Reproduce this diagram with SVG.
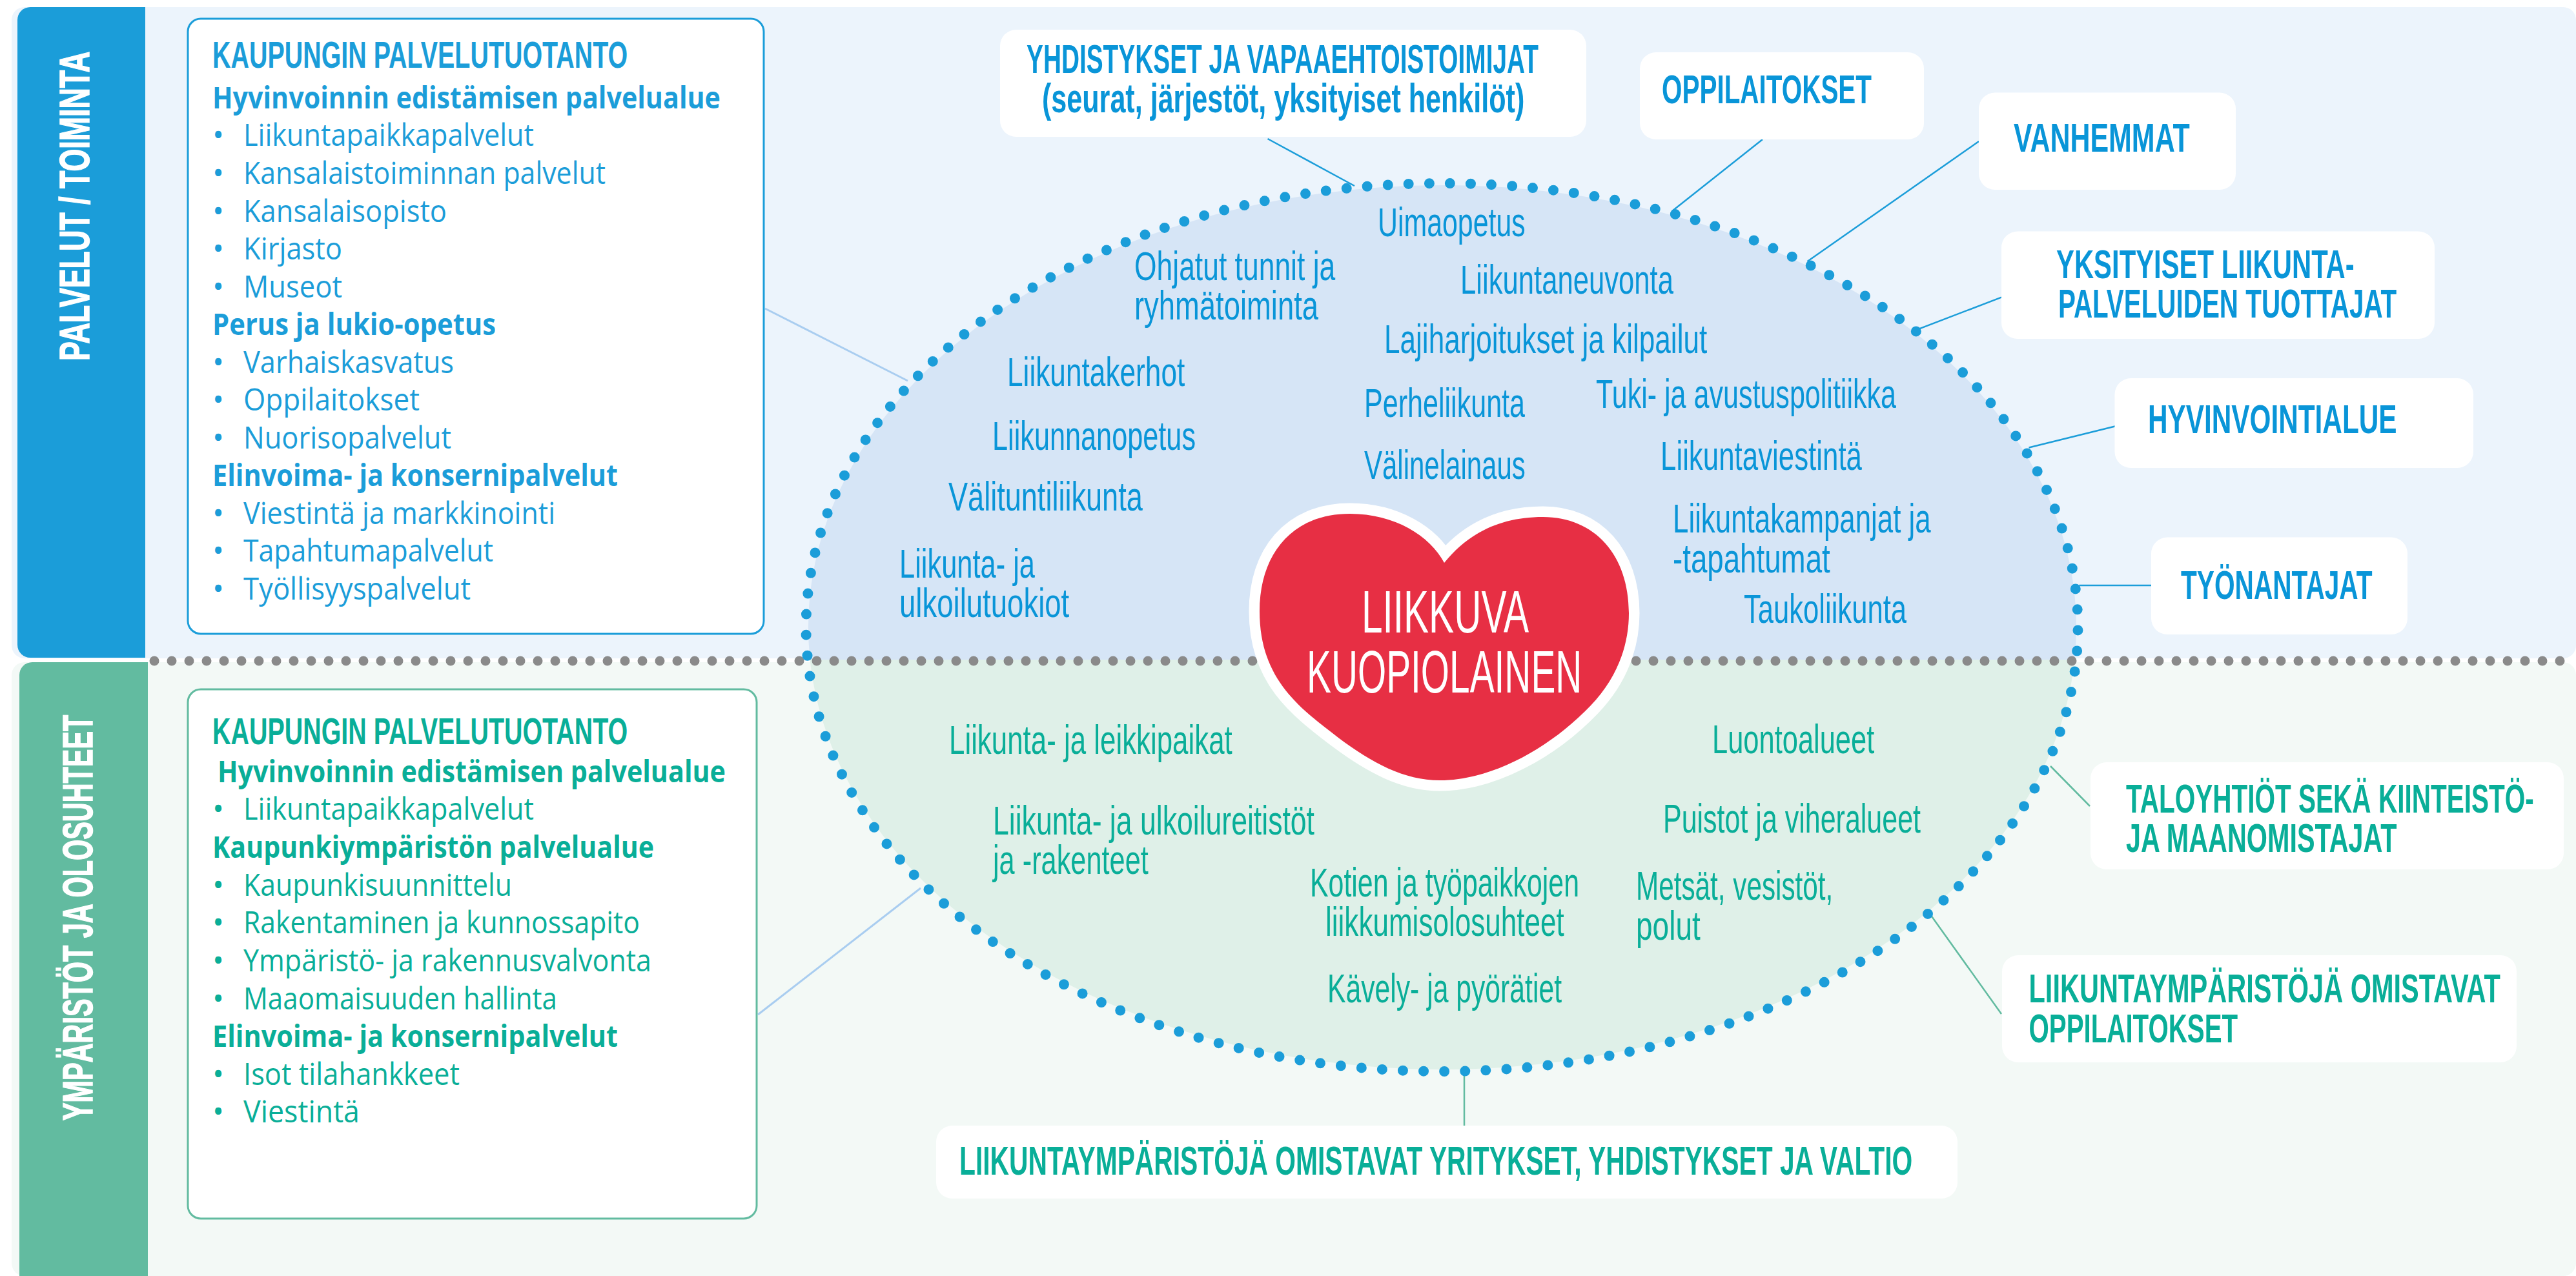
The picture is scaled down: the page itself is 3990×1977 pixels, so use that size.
<svg xmlns="http://www.w3.org/2000/svg" width="3990" height="1977" viewBox="0 0 3990 1977">
<defs>
<style>
text{font-family:"Open Sans","Noto Sans","Liberation Sans",sans-serif}
.b{fill:#1b9dd9}.g{fill:#09ae98}
.h,.l,.o,.ht,.side{font-family:"Liberation Sans Narrow","Liberation Sans",sans-serif}
.h{font-size:58px;font-weight:700}
.s{font-size:47px;font-weight:700}
.i{font-size:48px;font-weight:400}
.l{font-size:62px;font-weight:400}
.o{font-size:62px;font-weight:700}
.ob{fill:#0995d8}.lb{fill:#0995d8}
.side{font-size:64px;font-weight:700;fill:#fff;stroke:#fff;stroke-width:1.5px}
.ht{font-size:92px;font-weight:400;fill:#fff}
.w{fill:#fff}
.cb{stroke:#1b9dd9;stroke-width:2.5;fill:none}
.cg{stroke:#62bba0;stroke-width:2.5;fill:none}
.cl{stroke:#a9cdf0;stroke-width:3;fill:none}
</style>
<clipPath id="topHalf"><rect x="1200" y="200" width="2100" height="822"/></clipPath>
<clipPath id="bottomHalf"><rect x="1200" y="1022" width="2100" height="800"/></clipPath>
</defs>
<rect width="3990" height="1977" fill="#fff"/>
<g id="panel-top"><rect x="18" y="11" width="3972" height="1009" rx="20" fill="#ecf4fc"/></g>
<g id="panel-bottom"><rect x="18" y="1026" width="3972" height="951" rx="20" fill="#f3f9f6"/></g>
<g id="ellipse-fill">
<ellipse cx="2234" cy="972" rx="982" ry="685" fill="#d6e5f6" clip-path="url(#topHalf)"/>
<ellipse cx="2234" cy="972" rx="982" ry="685" fill="#dff0e8" clip-path="url(#bottomHalf)"/>
</g>
<g id="bar-top"><path d="M225 11V1019H47A20 20 0 0 1 27 999V31A20 20 0 0 1 47 11Z" fill="#1b9dd9"/>
<text class="side" transform="translate(138 559) rotate(-90) scale(.66 1)" textLength="726" lengthAdjust="spacingAndGlyphs">PALVELUT / TOIMINTA</text></g>
<g id="bar-bottom"><path d="M229 1026V1977H30V1046A20 20 0 0 1 50 1026Z" fill="#62bba0"/>
<text class="side" transform="translate(143 1736) rotate(-90) scale(.66 1)" textLength="952" lengthAdjust="spacingAndGlyphs">YMPÄRISTÖT JA OLOSUHTEET</text></g>
<g id="connectors">
<path class="cl" d="M1185 478L1406 590M1174 1572L1426 1376"/>
<path class="cb" d="M1963.5 215L2098 288M2730 216L2590 327M3065 219L2799.5 405M3100 460.6L2966 512M3278 660L3142.5 693.5M3220.5 907H3332"/>
<path class="cg" d="M3176 1187L3237 1249M2990 1417L3100 1571M2268 1667V1744"/>
</g>
<g id="divider"><path d="M239 1024H3990" stroke="#8a8a8a" stroke-width="15" stroke-linecap="round" stroke-dasharray="0 27" fill="none"/></g>
<g id="ellipse-dots"><path d="M2234 284A985 688 0 1 1 2233 284" stroke="#1b9dd9" stroke-width="16" stroke-linecap="round" stroke-dasharray="0 32.1" stroke-dashoffset="-12" fill="none"/></g>
<g id="box-palvelut">
<rect x="291" y="29" width="892" height="953" rx="20" fill="#fff" stroke="#1b9dd9" stroke-width="3"/>
<g class="b">
<text class="h" transform="translate(329 105) scale(.68 1)" textLength="946" lengthAdjust="spacingAndGlyphs">KAUPUNGIN PALVELUTUOTANTO</text>
<text class="s" x="329" y="167.5" textLength="787" lengthAdjust="spacingAndGlyphs">Hyvinvoinnin edistämisen palvelualue</text>
<text class="i" x="329" y="226">•</text><text class="i" x="377" y="226" textLength="450" lengthAdjust="spacingAndGlyphs">Liikuntapaikkapalvelut</text>
<text class="i" x="329" y="285">•</text><text class="i" x="377" y="285" textLength="561" lengthAdjust="spacingAndGlyphs">Kansalaistoiminnan palvelut</text>
<text class="i" x="329" y="343.5">•</text><text class="i" x="377" y="343.5" textLength="315" lengthAdjust="spacingAndGlyphs">Kansalaisopisto</text>
<text class="i" x="329" y="402">•</text><text class="i" x="377" y="402" textLength="153" lengthAdjust="spacingAndGlyphs">Kirjasto</text>
<text class="i" x="329" y="461">•</text><text class="i" x="377" y="461" textLength="153" lengthAdjust="spacingAndGlyphs">Museot</text>
<text class="s" x="329" y="519" textLength="439" lengthAdjust="spacingAndGlyphs">Perus ja lukio-opetus</text>
<text class="i" x="329" y="578">•</text><text class="i" x="377" y="578" textLength="326" lengthAdjust="spacingAndGlyphs">Varhaiskasvatus</text>
<text class="i" x="329" y="636">•</text><text class="i" x="377" y="636" textLength="273" lengthAdjust="spacingAndGlyphs">Oppilaitokset</text>
<text class="i" x="329" y="695">•</text><text class="i" x="377" y="695" textLength="322" lengthAdjust="spacingAndGlyphs">Nuorisopalvelut</text>
<text class="s" x="329" y="753" textLength="628" lengthAdjust="spacingAndGlyphs">Elinvoima- ja konsernipalvelut</text>
<text class="i" x="329" y="812">•</text><text class="i" x="377" y="812" textLength="483" lengthAdjust="spacingAndGlyphs">Viestintä ja markkinointi</text>
<text class="i" x="329" y="870">•</text><text class="i" x="377" y="870" textLength="387" lengthAdjust="spacingAndGlyphs">Tapahtumapalvelut</text>
<text class="i" x="329" y="929">•</text><text class="i" x="377" y="929" textLength="352" lengthAdjust="spacingAndGlyphs">Työllisyyspalvelut</text>
</g></g>
<g id="box-ymparistot">
<rect x="291" y="1068" width="881" height="820" rx="20" fill="#fff" stroke="#62bba0" stroke-width="3"/>
<g class="g">
<text class="h" transform="translate(329 1153) scale(.68 1)" textLength="946" lengthAdjust="spacingAndGlyphs">KAUPUNGIN PALVELUTUOTANTO</text>
<text class="s" x="337" y="1212" textLength="787" lengthAdjust="spacingAndGlyphs">Hyvinvoinnin edistämisen palvelualue</text>
<text class="i" x="329" y="1270">•</text><text class="i" x="377" y="1270" textLength="450" lengthAdjust="spacingAndGlyphs">Liikuntapaikkapalvelut</text>
<text class="s" x="329" y="1329" textLength="684" lengthAdjust="spacingAndGlyphs">Kaupunkiympäristön palvelualue</text>
<text class="i" x="329" y="1387.5">•</text><text class="i" x="377" y="1387.5" textLength="416" lengthAdjust="spacingAndGlyphs">Kaupunkisuunnittelu</text>
<text class="i" x="329" y="1446">•</text><text class="i" x="377" y="1446" textLength="614" lengthAdjust="spacingAndGlyphs">Rakentaminen ja kunnossapito</text>
<text class="i" x="329" y="1505">•</text><text class="i" x="377" y="1505" textLength="632" lengthAdjust="spacingAndGlyphs">Ympäristö- ja rakennusvalvonta</text>
<text class="i" x="329" y="1564">•</text><text class="i" x="377" y="1564" textLength="486" lengthAdjust="spacingAndGlyphs">Maaomaisuuden hallinta</text>
<text class="s" x="329" y="1622" textLength="628" lengthAdjust="spacingAndGlyphs">Elinvoima- ja konsernipalvelut</text>
<text class="i" x="329" y="1681">•</text><text class="i" x="377" y="1681" textLength="335" lengthAdjust="spacingAndGlyphs">Isot tilahankkeet</text>
<text class="i" x="329" y="1739">•</text><text class="i" x="377" y="1739" textLength="180" lengthAdjust="spacingAndGlyphs">Viestintä</text>
</g></g>
<g id="actor-yhdistykset"><rect class="w" x="1549" y="46" width="908" height="166" rx="25"/>
<text class="o ob" transform="translate(1590 113) scale(.68 1)" textLength="1166" lengthAdjust="spacingAndGlyphs">YHDISTYKSET JA VAPAAEHTOISTOIMIJAT</text>
<text class="o ob" transform="translate(1614 173.5) scale(.68 1)" textLength="1099" lengthAdjust="spacingAndGlyphs">(seurat, järjestöt, yksityiset henkilöt)</text></g>
<g id="actor-oppilaitokset"><rect class="w" x="2540" y="81" width="440" height="135" rx="25"/>
<text class="o ob" transform="translate(2574 159.5) scale(.68 1)" textLength="478" lengthAdjust="spacingAndGlyphs">OPPILAITOKSET</text></g>
<g id="actor-vanhemmat"><rect class="w" x="3065" y="143.5" width="398" height="150.5" rx="25"/>
<text class="o ob" transform="translate(3119 235) scale(.68 1)" textLength="401" lengthAdjust="spacingAndGlyphs">VANHEMMAT</text></g>
<g id="actor-yksityiset"><rect class="w" x="3100" y="358.5" width="671" height="166.5" rx="25"/>
<text class="o ob" transform="translate(3185 431) scale(.68 1)" textLength="679" lengthAdjust="spacingAndGlyphs">YKSITYISET LIIKUNTA-</text>
<text class="o ob" transform="translate(3188 492) scale(.68 1)" textLength="771" lengthAdjust="spacingAndGlyphs">PALVELUIDEN TUOTTAJAT</text></g>
<g id="actor-hyvinvointialue"><rect class="w" x="3275.5" y="586" width="555.5" height="139" rx="25"/>
<text class="o ob" transform="translate(3327 671) scale(.68 1)" textLength="567" lengthAdjust="spacingAndGlyphs">HYVINVOINTIALUE</text></g>
<g id="actor-tyonantajat"><rect class="w" x="3332" y="832.6" width="397" height="150.4" rx="25"/>
<text class="o ob" transform="translate(3378 928) scale(.68 1)" textLength="436" lengthAdjust="spacingAndGlyphs">TYÖNANTAJAT</text></g>
<g id="actor-taloyhtiot"><rect class="w" x="3238" y="1181" width="733" height="166" rx="25"/>
<text class="o g" transform="translate(3293 1258.5) scale(.68 1)" textLength="929" lengthAdjust="spacingAndGlyphs">TALOYHTIÖT SEKÄ KIINTEISTÖ-</text>
<text class="o g" transform="translate(3293 1320) scale(.68 1)" textLength="617" lengthAdjust="spacingAndGlyphs">JA MAANOMISTAJAT</text></g>
<g id="actor-omistavat-oppilaitokset"><rect class="w" x="3101" y="1480" width="797" height="166" rx="25"/>
<text class="o g" transform="translate(3142.5 1553) scale(.68 1)" textLength="1074" lengthAdjust="spacingAndGlyphs">LIIKUNTAYMPÄRISTÖJÄ OMISTAVAT</text>
<text class="o g" transform="translate(3142.5 1615) scale(.68 1)" textLength="476" lengthAdjust="spacingAndGlyphs">OPPILAITOKSET</text></g>
<g id="actor-omistavat-yritykset"><rect class="w" x="1450" y="1744" width="1582" height="113" rx="25"/>
<text class="o g" transform="translate(1486 1820) scale(.68 1)" textLength="2171" lengthAdjust="spacingAndGlyphs">LIIKUNTAYMPÄRISTÖJÄ OMISTAVAT YRITYKSET, YHDISTYKSET JA VALTIO</text></g>
<g id="labels-toiminta" class="lb">
<text class="l" transform="translate(2134 365.6) scale(.75 1)" textLength="305" lengthAdjust="spacingAndGlyphs">Uimaopetus</text>
<text class="l" transform="translate(1757 434) scale(.75 1)" textLength="415" lengthAdjust="spacingAndGlyphs">Ohjatut tunnit ja</text>
<text class="l" transform="translate(1757 495) scale(.75 1)" textLength="380" lengthAdjust="spacingAndGlyphs">ryhmätoiminta</text>
<text class="l" transform="translate(2262 455) scale(.75 1)" textLength="440" lengthAdjust="spacingAndGlyphs">Liikuntaneuvonta</text>
<text class="l" transform="translate(2144 547) scale(.75 1)" textLength="667" lengthAdjust="spacingAndGlyphs">Lajiharjoitukset ja kilpailut</text>
<text class="l" transform="translate(1560 598) scale(.75 1)" textLength="367" lengthAdjust="spacingAndGlyphs">Liikuntakerhot</text>
<text class="l" transform="translate(2113 646) scale(.75 1)" textLength="332" lengthAdjust="spacingAndGlyphs">Perheliikunta</text>
<text class="l" transform="translate(2472 632) scale(.75 1)" textLength="620" lengthAdjust="spacingAndGlyphs">Tuki- ja avustuspolitiikka</text>
<text class="l" transform="translate(1537 697) scale(.75 1)" textLength="420" lengthAdjust="spacingAndGlyphs">Liikunnanopetus</text>
<text class="l" transform="translate(2113 742) scale(.75 1)" textLength="333" lengthAdjust="spacingAndGlyphs">Välinelainaus</text>
<text class="l" transform="translate(2572 728) scale(.75 1)" textLength="416" lengthAdjust="spacingAndGlyphs">Liikuntaviestintä</text>
<text class="l" transform="translate(1469 791) scale(.75 1)" textLength="401" lengthAdjust="spacingAndGlyphs">Välituntiliikunta</text>
<text class="l" transform="translate(2591 825) scale(.75 1)" textLength="533" lengthAdjust="spacingAndGlyphs">Liikuntakampanjat ja</text>
<text class="l" transform="translate(2591 887) scale(.75 1)" textLength="325" lengthAdjust="spacingAndGlyphs">-tapahtumat</text>
<text class="l" transform="translate(2701 965) scale(.75 1)" textLength="336" lengthAdjust="spacingAndGlyphs">Taukoliikunta</text>
<text class="l" transform="translate(1393 895) scale(.75 1)" textLength="280" lengthAdjust="spacingAndGlyphs">Liikunta- ja</text>
<text class="l" transform="translate(1393 956) scale(.75 1)" textLength="351" lengthAdjust="spacingAndGlyphs">ulkoilutuokiot</text>
</g>
<g id="labels-olosuhteet" class="g">
<text class="l" transform="translate(1470 1168) scale(.75 1)" textLength="585" lengthAdjust="spacingAndGlyphs">Liikunta- ja leikkipaikat</text>
<text class="l" transform="translate(1538 1293) scale(.75 1)" textLength="664" lengthAdjust="spacingAndGlyphs">Liikunta- ja ulkoilureitistöt</text>
<text class="l" transform="translate(1538 1354) scale(.75 1)" textLength="321" lengthAdjust="spacingAndGlyphs">ja -rakenteet</text>
<text class="l" transform="translate(2029 1389) scale(.75 1)" textLength="556" lengthAdjust="spacingAndGlyphs">Kotien ja työpaikkojen</text>
<text class="l" transform="translate(2053 1450) scale(.75 1)" textLength="493" lengthAdjust="spacingAndGlyphs">liikkumisolosuhteet</text>
<text class="l" transform="translate(2056 1553) scale(.75 1)" textLength="484" lengthAdjust="spacingAndGlyphs">Kävely- ja pyörätiet</text>
<text class="l" transform="translate(2652 1167) scale(.75 1)" textLength="335" lengthAdjust="spacingAndGlyphs">Luontoalueet</text>
<text class="l" transform="translate(2576 1290) scale(.75 1)" textLength="532" lengthAdjust="spacingAndGlyphs">Puistot ja viheralueet</text>
<text class="l" transform="translate(2534 1394) scale(.75 1)" textLength="407" lengthAdjust="spacingAndGlyphs">Metsät, vesistöt,</text>
<text class="l" transform="translate(2534 1456) scale(.75 1)" textLength="133" lengthAdjust="spacingAndGlyphs">polut</text>
</g>
<g id="heart">
<path d="M2237 872C2215 830 2160 796 2091 796C2000 796 1951 860 1951 947C1951 1050 2010 1095 2073 1143C2125 1182 2175 1209 2230 1209C2310 1209 2400 1160 2464 1093C2505 1050 2523 1000 2523 950C2523 860 2470 801 2390 801C2325 801 2275 825 2237 872Z" fill="#e72f44" stroke="#fff" stroke-width="33" stroke-linejoin="miter" paint-order="stroke"/>
<text class="ht" transform="translate(2109 980) scale(.76 1)" textLength="341" lengthAdjust="spacingAndGlyphs">LIIKKUVA</text>
<text class="ht" transform="translate(2024 1073) scale(.76 1)" textLength="561" lengthAdjust="spacingAndGlyphs">KUOPIOLAINEN</text>
</g>
</svg>
